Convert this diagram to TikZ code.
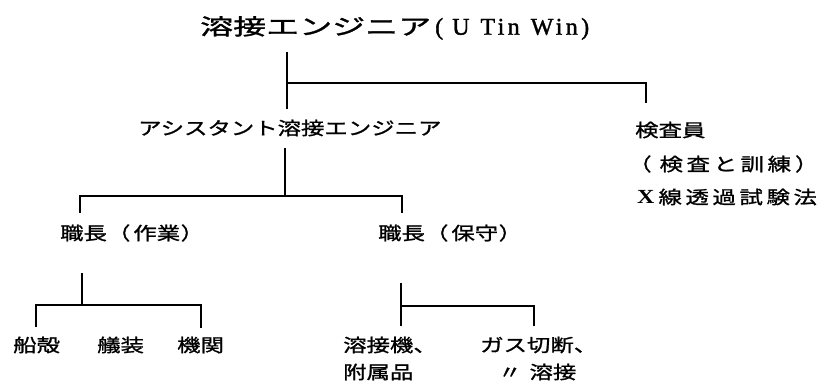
\documentclass[tikz,border=0pt]{standalone}
\usepackage{fontspec}
\setmainfont{Liberation Serif}
\newfontfamily\jpb[FakeStretch=1.3,FakeBold=1.2]{Noto Sans CJK JP}
\newfontfamily\jpw[FakeStretch=1.3,FakeBold=1.2,LetterSpace=20]{Noto Sans CJK JP}
\newfontfamily\jpt[FakeStretch=1.5,FakeBold=1.4]{Noto Sans CJK JP}
\newfontfamily\latt[LetterSpace=14,FakeBold=1.5]{Liberation Serif}
\newfontfamily\latb[FakeStretch=1.2]{Liberation Serif}
\usetikzlibrary{calc}
\begin{document}
\begin{tikzpicture}[x=1pt,y=-1pt,
  lbl/.style={anchor=west,inner sep=0pt,font=\jpb\fontsize{18}{22}\selectfont},
  wlbl/.style={anchor=west,inner sep=0pt,font=\jpw\fontsize{18}{22}\selectfont},
  ttl/.style={anchor=west,inner sep=0pt,font=\jpt\fontsize{22}{26}\selectfont},
  conn/.style={line width=1.5pt, line join=miter}]
\useasboundingbox (0,0) rectangle (829,390);
% title and texts
\node[ttl] (top) at (200,28) {溶接エンジニア{\latt\fontsize{24}{26}\selectfont\hspace{4pt}(\hspace{9pt}U\hspace{11pt}Tin\hspace{11pt}Win)}};
\node[lbl] (asst) at (138,128) {アシスタント溶接エンジニア};
\node[lbl] (insp1) at (635,130) {検査員};
\node[wlbl] (insp2) at (628,164) {（\hspace{8pt}検査と訓練\hspace{4pt}）};
\node[wlbl] (insp3) at (637,197) {{\latb\bfseries\fontsize{20}{22}\selectfont X}\hspace{4pt}線透過試験法};
\node[lbl] (w1) at (60,233) {職長（\hspace{3pt}作業\hspace{0.5pt}）};
\node[lbl] (w2) at (378,233) {職長（\hspace{3pt}保守\hspace{0.5pt}）};
\node[lbl] (b1) at (13,345) {船殻};
\node[lbl] (b2) at (97,345) {艤装};
\node[lbl] (b3) at (177,345) {機関};
\node[lbl] (m1) at (343,345) {溶接機、};
\node[lbl] (m1b) at (343,372) {附属品};
\node[lbl] (m2) at (480,345) {ガス切断、};
\node[lbl] (m2b) at (498,372) {〃\hspace{8pt}溶接};
% junctions
\coordinate (j1) at (287,83);
\coordinate (j2) at (646,83);
\coordinate (j3) at (285,196);
\coordinate (j3l) at (80,196);
\coordinate (j3r) at (402,196);
\coordinate (j4) at (82,305);
\coordinate (j4l) at (36,305);
\coordinate (j4r) at (201,305);
\coordinate (j5) at (401,306);
\coordinate (j5r) at (534,306);
% connectors
\draw[conn, shorten <=12pt, shorten >=11pt] (top.south -| j1) -- (asst.north -| j1);
\draw[conn, shorten >=18pt] (j1) -- (j2) -- (j2 |- insp1.north);
\draw[conn, shorten <=12pt] (asst.south -| j3) -- (j3);
\draw[conn, shorten <=11pt, shorten >=11pt] (j3l |- w1.north) -- (j3l) -- (j3r) -- (j3r |- w2.north);
\draw[conn, shorten <=31pt] (w1.south -| j4) -- (j4);
\draw[conn, shorten <=9pt, shorten >=9pt] (j4l |- b1.north) -- (j4l) -- (j4r) -- (j4r |- b3.north);
\draw[conn, shorten <=41pt, shorten >=11pt] (w2.south -| j5) -- (j5 |- m1.north);
\draw[conn, shorten >=11pt] (j5) -- (j5r) -- (j5r |- m2.north);
\end{tikzpicture}
\end{document}
